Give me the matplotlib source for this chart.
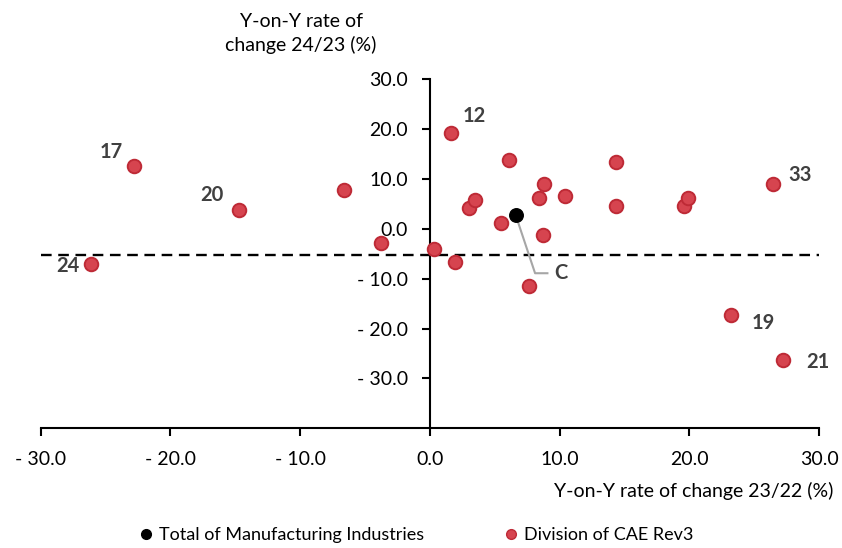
import matplotlib.pyplot as plt
from matplotlib.lines import Line2D

# Division of CAE Rev3: change 23/22 (x) and 24/23 (y), %
div_x = [-22.8, -14.7, -26.1, -6.6, -3.8, 0.3, 1.6, 1.9, 3.0, 3.5, 5.5, 6.1,
         7.6, 8.4, 8.8, 8.7, 10.4, 14.3, 14.3, 19.6, 19.9, 26.4, 23.2, 27.2]
div_y = [12.7, 3.7, -7.1, 7.8, -2.9, -4.1, 19.2, -6.6, 4.1, 5.8, 1.1, 13.9,
         -11.5, 6.1, 9.0, -1.3, 6.5, 13.5, 4.5, 4.5, 6.1, 9.0, -17.3, -26.3]
div_lab = ["17", "20", "24", "", "", "", "12", "", "", "", "", "",
           "", "", "", "", "", "", "", "", "", "33", "19", "21"]

# Total of manufacturing industries
tot_x = 6.6
tot_y = 2.8
ref_y = -5.3  # dashed reference line

red = "#D6444F"
red_edge = "#BE2A36"
lab_col = "#404040"
font = "Lato"

plt.rcParams['font.family'] = [font, 'DejaVu Sans']

fig = plt.figure(figsize=(8.42, 5.48), dpi=100)
ax = fig.add_axes([0.0483, 0.2184, 0.9247, 0.637])

ax.plot([-30, 30], [ref_y, ref_y], color="black", lw=1.7,
        linestyle=(0, (4.5, 2.8)), zorder=1)

ax.scatter(div_x, div_y, s=95, color=red, edgecolor=red_edge, lw=1.4, zorder=3)
ax.scatter([tot_x], [tot_y], s=95, color="black", zorder=4)

# data labels (offsets in pixels)
offsets = {"17": (-23, 14), "20": (-27, 15), "24": (-23, -2), "12": (24, 17),
           "33": (28, 9), "19": (32, -8), "21": (35, -2)}
for x, y, t in zip(div_x, div_y, div_lab):
    if t:
        ax.annotate(t, (x, y), xytext=offsets[t], textcoords="offset pixels",
                    ha="center", va="center", fontsize=14.5, fontweight="bold",
                    color=lab_col)

# leader for "C"
ax.plot([tot_x, 8.1, 9.05], [tot_y, -8.9, -8.9], color="#A6A6A6", lw=1.5, zorder=2)
ax.text(10.1, -8.9, "C", ha="center", va="center", fontsize=14.5,
        fontweight="bold", color=lab_col)

ax.set_xlim(-30, 30)
ax.set_ylim(-40, 30)

def fmt(v):
    return f"- {abs(v):.1f}" if v < 0 else f"{v:.1f}"

xt = [-30, -20, -10, 0, 10, 20, 30]
yt = [-30, -20, -10, 0, 10, 20, 30]
ax.set_xticks(xt)
ax.set_xticklabels([fmt(v) for v in xt])
ax.set_yticks(yt)
ax.set_yticklabels([fmt(v) for v in yt])

ax.spines["left"].set_position(("data", 0))
ax.spines["top"].set_visible(False)
ax.spines["right"].set_visible(False)
for s in ["left", "bottom"]:
    ax.spines[s].set_linewidth(1.5)
ax.tick_params(axis="both", direction="out", length=6, width=1.5,
               labelsize=14, pad=10)

fig.text(301 / 842, 1 - 33.5 / 548, "Y-on-Y rate of\nchange 24/23 (%)",
         ha="center", va="center", fontsize=14, linespacing=1.35)
fig.text(833 / 842, 1 - 491 / 548, "Y-on-Y rate of change 23/22 (%)",
         ha="right", va="center", fontsize=14)

handles = [Line2D([], [], marker="o", ls="", color="black", markersize=7),
           Line2D([], [], marker="o", ls="", color=red, markeredgecolor=red_edge,
                  markersize=7)]
fig.legend(handles, ["Total of Manufacturing Industries", "Division of CAE Rev3"],
           loc="center", bbox_to_anchor=(0.493, 1 - 535 / 548), ncol=2,
           frameon=False, fontsize=13, handlelength=1.0, handletextpad=0.2,
           columnspacing=4.35)

fig.savefig("out.png", dpi=100)
